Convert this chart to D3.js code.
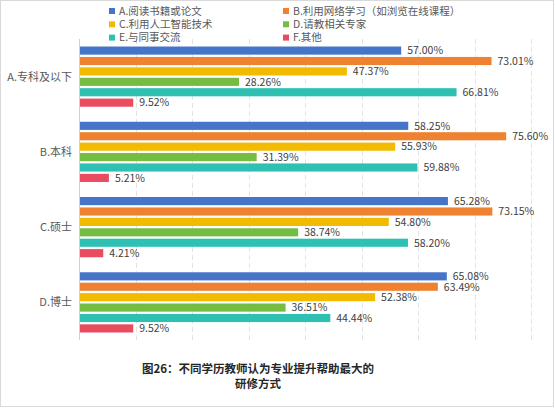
<!DOCTYPE html>
<html>
<head>
<meta charset="utf-8">
<script src="https://cdn.jsdelivr.net/npm/d3@7"></script>
<style>
  body { margin: 0; background: #fff; }
  text { font-family: "Noto Sans CJK SC", "Noto Sans", sans-serif; }
</style>
</head>
<body>
<svg id="chart" width="555" height="408"></svg>
<script>
// data
const categories = ["A.专科及以下", "B.本科", "C.硕士", "D.博士"];
const seriesNames = [
  "A.阅读书籍或论文",
  "B.利用网络学习（如浏览在线课程）",
  "C.利用人工智能技术",
  "D.请教相关专家",
  "E.与同事交流",
  "F.其他"
];
const seriesA = [57.00, 58.25, 65.28, 65.08];
const seriesB = [73.01, 75.60, 73.15, 63.49];
const seriesC = [47.37, 55.93, 54.80, 52.38];
const seriesD = [28.26, 31.39, 38.74, 36.51];
const seriesE = [66.81, 59.88, 58.20, 44.44];
const seriesF = [9.52, 5.21, 4.21, 9.52];
const allSeries = [seriesA, seriesB, seriesC, seriesD, seriesE, seriesF];
const colors = ["#4674C9", "#EE8230", "#F2BA00", "#75BD42", "#2EC0B2", "#E84C5E"];
const gridTicks = [10, 20, 30, 40, 50, 60, 70, 80];

const svg = d3.select("#chart");
const W = 555, H = 408;

// outer frame
svg.append("rect")
  .attr("x", 0.5).attr("y", 0.5)
  .attr("width", W - 2).attr("height", H - 2)
  .attr("fill", "#fff")
  .attr("stroke", "#d9d9d9");

const plot = { left: 79.5, right: 531, top: 39, bottom: 340 };

const x = d3.scaleLinear().domain([0, 80]).range([plot.left, plot.right]);
const y0 = d3.scaleBand().domain(categories).range([plot.top, plot.bottom]).paddingInner(0.2).paddingOuter(0.1);
const y1 = d3.scaleBand().domain(d3.range(6)).range([0, y0.bandwidth()]).paddingInner(0.22);

// dashed gridlines
svg.append("g")
  .selectAll("line")
  .data(gridTicks)
  .join("line")
  .attr("x1", d => Math.round(x(d)) + 0.5)
  .attr("x2", d => Math.round(x(d)) + 0.5)
  .attr("y1", plot.top)
  .attr("y2", plot.bottom)
  .attr("stroke", "#e3e3e3")
  .attr("stroke-width", 1)
  .attr("stroke-dasharray", "5,3");

// bars
const groups = svg.append("g")
  .selectAll("g")
  .data(categories)
  .join("g")
  .attr("transform", d => `translate(0,${y0(d)})`);

groups.each(function (cat, ci) {
  const g = d3.select(this);
  allSeries.forEach((vals, si) => {
    const v = vals[ci];
    g.append("rect")
      .attr("x", x(0))
      .attr("y", y1(si))
      .attr("width", x(v) - x(0))
      .attr("height", y1.bandwidth())
      .attr("fill", colors[si]);
    g.append("text")
      .attr("x", x(v) + 6)
      .attr("y", y1(si) + y1.bandwidth() / 2)
      .attr("dy", "0.36em")
      .attr("font-size", 10.5)
      .attr("fill", "#404040")
      .text(v.toFixed(2) + "%");
  });
});

// category axis
svg.append("line")
  .attr("x1", plot.left).attr("x2", plot.left)
  .attr("y1", plot.top).attr("y2", plot.bottom)
  .attr("stroke", "#d0d0d0");

svg.append("g")
  .selectAll("text")
  .data(categories)
  .join("text")
  .attr("x", 72)
  .attr("y", d => y0(d) + y0.bandwidth() / 2)
  .attr("dy", "0.36em")
  .attr("text-anchor", "end")
  .attr("font-size", 11)
  .attr("fill", "#595959")
  .text(d => d);

// legend
const legend = svg.append("g");
seriesNames.forEach((name, i) => {
  const lx = i % 2 === 0 ? 109 : 283;
  const ly = 11 + Math.floor(i / 2) * 13.3;
  legend.append("rect")
    .attr("x", lx).attr("y", ly - 3)
    .attr("width", 6).attr("height", 6)
    .attr("fill", colors[i]);
  legend.append("text")
    .attr("x", lx + 10).attr("y", ly)
    .attr("dy", "0.36em")
    .attr("font-size", 10.5)
    .attr("fill", "#595959")
    .text(name);
});

// caption
const cap = svg.append("text")
  .attr("x", 258)
  .attr("text-anchor", "middle")
  .attr("font-size", 11.5)
  .attr("font-weight", "bold")
  .attr("fill", "#262626");
cap.append("tspan").attr("x", 258).attr("y", 373).text("图26：不同学历教师认为专业提升帮助最大的");
cap.append("tspan").attr("x", 258).attr("y", 388).text("研修方式");
</script>
</body>
</html>
